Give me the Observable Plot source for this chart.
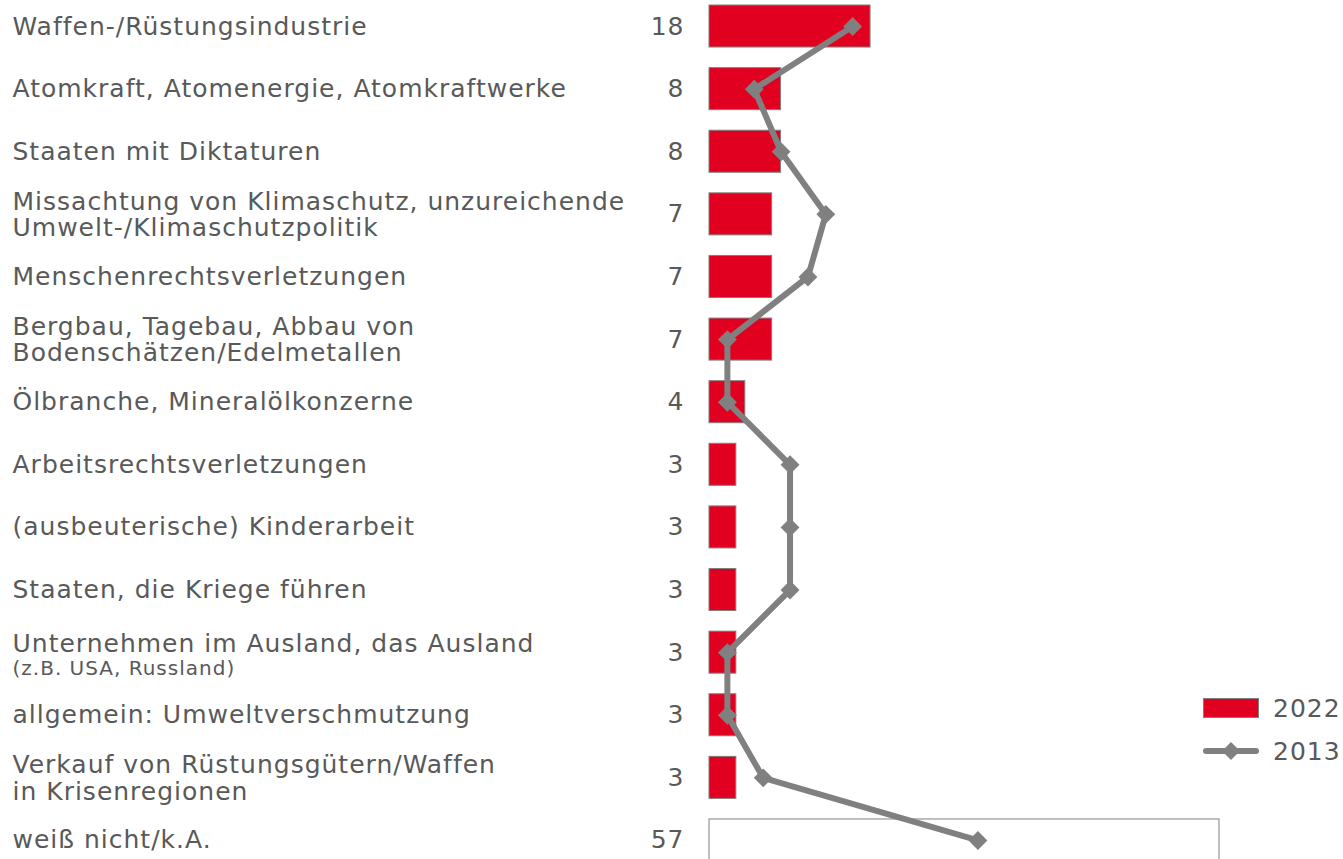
<!DOCTYPE html>
<html>
<head>
<meta charset="utf-8">
<script src="https://cdn.jsdelivr.net/npm/d3@7"></script>
<script src="https://cdn.jsdelivr.net/npm/@observablehq/plot@0.6"></script>
<style>
  html, body { margin: 0; padding: 0; background: #fff; overflow: hidden; }
  #wrap { position: relative; width: 1343px; height: 859px; }
  #legend { position: absolute; left: 1203px; top: 690px; font-family: "DejaVu Sans", Verdana, sans-serif; font-size: 25px; letter-spacing: 1px; color: #595959; }
  .item { display: flex; align-items: center; height: 36px; margin-bottom: 7px; }
  .item svg { margin-right: 14px; }
</style>
</head>
<body>
<div id="wrap"><div id="chart"></div>
<div id="legend">
  <div class="item"><svg width="56" height="20"><rect x="0.5" y="0.5" width="55" height="19" fill="#E1001F" stroke="#7f7f7f"/></svg><span>2022</span></div>
  <div class="item"><svg width="56" height="20"><line x1="3" y1="10" x2="53" y2="10" stroke="#808080" stroke-width="6" stroke-linecap="round"/><path d="M28,1 L37,10 L28,19 L19,10 Z" fill="#808080"/></svg><span>2013</span></div>
</div>
</div>
<script>
const categories = [
  "Waffen-/Rüstungsindustrie",
  "Atomkraft, Atomenergie, Atomkraftwerke",
  "Staaten mit Diktaturen",
  "Missachtung von Klimaschutz, unzureichende\nUmwelt-/Klimaschutzpolitik",
  "Menschenrechtsverletzungen",
  "Bergbau, Tagebau, Abbau von\nBodenschätzen/Edelmetallen",
  "Ölbranche, Mineralölkonzerne",
  "Arbeitsrechtsverletzungen",
  "(ausbeuterische) Kinderarbeit",
  "Staaten, die Kriege führen",
  "Unternehmen im Ausland, das Ausland",
  "allgemein: Umweltverschmutzung",
  "Verkauf von Rüstungsgütern/Waffen\nin Krisenregionen",
  "weiß nicht/k.A."
];
const subLabels = ["", "", "", "", "", "", "", "", "", "", "(z.B. USA, Russland)", "", "", ""];
const values2022 = [18, 8, 8, 7, 7, 7, 4, 3, 3, 3, 3, 3, 3, 57];
const values2013 = [16, 5, 8, 13, 11, 2, 2, 9, 9, 9, 2, 2, 6, 30];

const dontKnow = "weiß nicht/k.A.";
const rows = categories.map((c, i) => ({cat: c, sub: subLabels[i], v22: values2022[i], v13: values2013[i]}));
const font = "DejaVu Sans, Verdana, sans-serif";
const textColor = "#595959";
const single = rows.filter(d => !d.sub && !d.cat.includes("\n"));
const multi = rows.filter(d => d.cat.includes("\n"));
const withSub = rows.filter(d => d.sub);

const chart = Plot.plot({
  width: 1343,
  height: 866,
  marginLeft: 709,
  marginRight: 124,
  marginTop: 0,
  marginBottom: 0,
  style: {fontFamily: font, fontSize: "25px", color: textColor, background: "white", overflow: "visible", letterSpacing: "1px"},
  x: {domain: [0, 57], axis: null},
  y: {domain: categories, axis: null, paddingInner: 0.329, paddingOuter: 0.08, round: false},
  marks: [
    Plot.barX(rows, {x: "v22", y: "cat", fill: d => d.cat === dontKnow ? "white" : "#E1001F", stroke: "#7f7f7f", strokeWidth: 1}),
    Plot.text(rows, {x: 0, y: "cat", text: d => String(d.v22), textAnchor: "end", dx: -25, fill: textColor, fontSize: 25}),
    Plot.text(single, {x: 0, y: "cat", text: "cat", textAnchor: "start", dx: -697, fill: textColor, fontSize: 25}),
    Plot.text(multi, {x: 0, y: "cat", text: "cat", textAnchor: "start", dx: -697, dy: 0, fill: textColor, fontSize: 25, lineHeight: 1.06}),
    Plot.text(withSub, {x: 0, y: "cat", text: "cat", textAnchor: "start", dx: -697, dy: -9, fill: textColor, fontSize: 25}),
    Plot.text(withSub, {x: 0, y: "cat", text: "sub", textAnchor: "start", dx: -697, dy: 16, fill: textColor, fontSize: 20}),
    Plot.line(rows, {x: "v13", y: "cat", stroke: "#808080", strokeWidth: 6, strokeLinejoin: "miter"}),
    Plot.dot(rows, {x: "v13", y: "cat", symbol: "diamond2", r: 8.5, fill: "#808080", stroke: "none"})
  ]
});
document.getElementById("chart").append(chart);
</script>
</body>
</html>
